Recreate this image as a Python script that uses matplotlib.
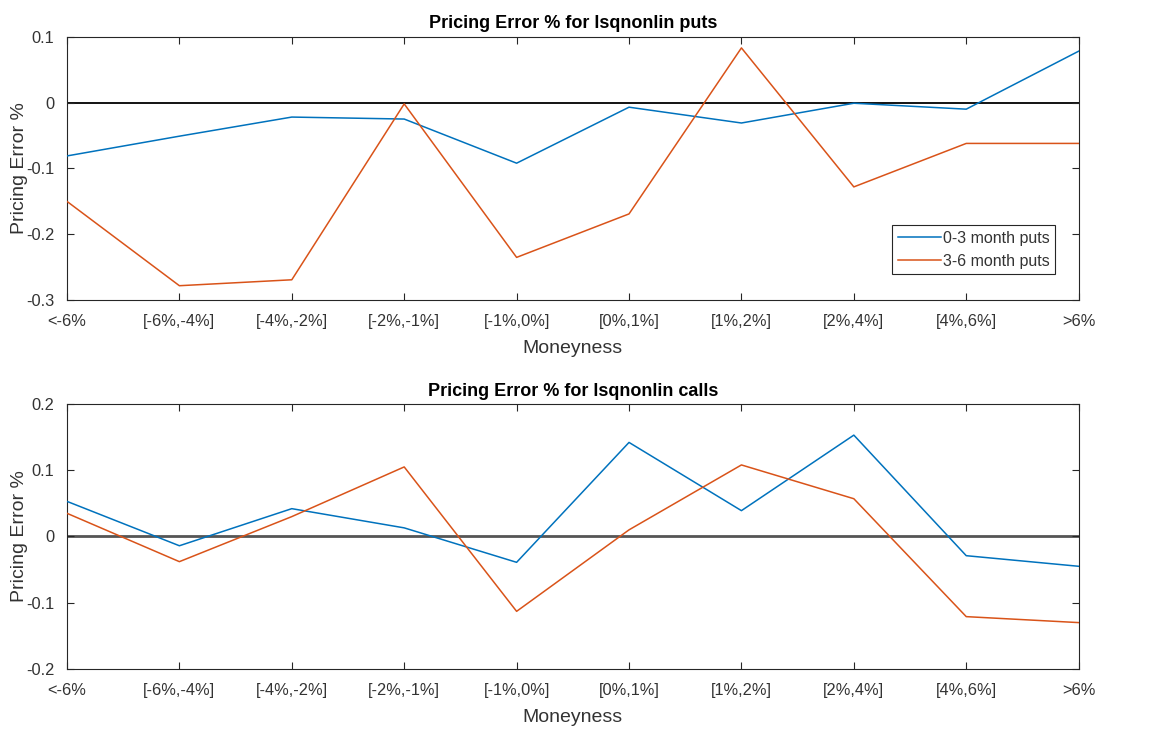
import matplotlib
matplotlib.use("Agg")
import matplotlib.pyplot as plt
import numpy as np

plt.rcParams['font.family'] = ['Liberation Sans', 'DejaVu Sans']

moneyness = ['<-6%', '[-6%,-4%]', '[-4%,-2%]', '[-2%,-1%]', '[-1%,0%]',
             '[0%,1%]', '[1%,2%]', '[2%,4%]', '[4%,6%]', '>6%']

puts_short = [-0.081, -0.051, -0.022, -0.025, -0.092, -0.007, -0.031, -0.001, -0.010, 0.078]
puts_long = [-0.150, -0.278, -0.269, -0.002, -0.235, -0.169, 0.083, -0.128, -0.062, -0.062]

calls_short = [0.053, -0.014, 0.042, 0.013, -0.039, 0.142, 0.039, 0.153, -0.029, -0.045]
calls_long = [0.035, -0.038, 0.030, 0.105, -0.113, 0.010, 0.108, 0.057, -0.121, -0.130]

put_ticks = [-0.3, -0.2, -0.1, 0, 0.1]
call_ticks = [-0.2, -0.1, 0, 0.1, 0.2]

blue = '#0072BD'
orange = '#D95319'
dark = '#262626'
label_grey = '#333333'

fig = plt.figure(figsize=(11.75, 7.34), dpi=100)
ax1 = fig.add_axes([0.057, 0.591, 0.861, 0.359])
ax2 = fig.add_axes([0.057, 0.0886, 0.861, 0.361])

x = np.arange(len(moneyness))


def style(ax, title, yticks, zero_color, zero_lw):
    ax.set_xlim(x[0], x[-1])
    ax.set_ylim(yticks[0], yticks[-1])
    ax.set_yticks(yticks)
    ax.set_yticklabels([f'{t:g}' for t in yticks])
    ax.set_xticks(x)
    ax.set_xticklabels(moneyness)
    ax.tick_params(direction='in', length=5, width=0.8, colors=dark,
                   labelcolor=label_grey, labelsize=11.8, top=True, right=True)
    ax.tick_params(axis='y', pad=9)
    ax.tick_params(axis='x', pad=10)
    for s in ax.spines.values():
        s.set_color(dark)
        s.set_linewidth(0.8)
    ax.set_title(title, fontsize=13, fontweight='bold', color='black', pad=6)
    ax.set_xlabel('Moneyness', fontsize=14, color=label_grey, labelpad=8)
    ax.set_ylabel('Pricing Error %', fontsize=14, color=label_grey)
    ax.yaxis.set_label_coords(-0.039, 0.5)
    ax.axhline(0, color=zero_color, lw=zero_lw, zorder=1)


ax1.plot(x, puts_short, color=blue, lw=1.1, label='0-3 month puts', zorder=3)
ax1.plot(x, puts_long, color=orange, lw=1.1, label='3-6 month puts', zorder=3)
style(ax1, 'Pricing Error % for lsqnonlin puts', put_ticks, 'black', 1.3)
leg = ax1.legend(loc='lower right', bbox_to_anchor=(0.977, 0.098), fontsize=11.5,
                 frameon=True, fancybox=False, edgecolor=dark, framealpha=1,
                 handlelength=2.7, handletextpad=0.12, borderpad=0.35,
                 labelspacing=0.5, borderaxespad=0)
for t in leg.get_texts():
    t.set_color(label_grey)
leg.get_frame().set_linewidth(0.8)

ax2.plot(x, calls_short, color=blue, lw=1.1, zorder=3)
ax2.plot(x, calls_long, color=orange, lw=1.1, zorder=3)
style(ax2, 'Pricing Error % for lsqnonlin calls', call_ticks, '#555555', 2.0)

fig.savefig('out.png', dpi=100)
